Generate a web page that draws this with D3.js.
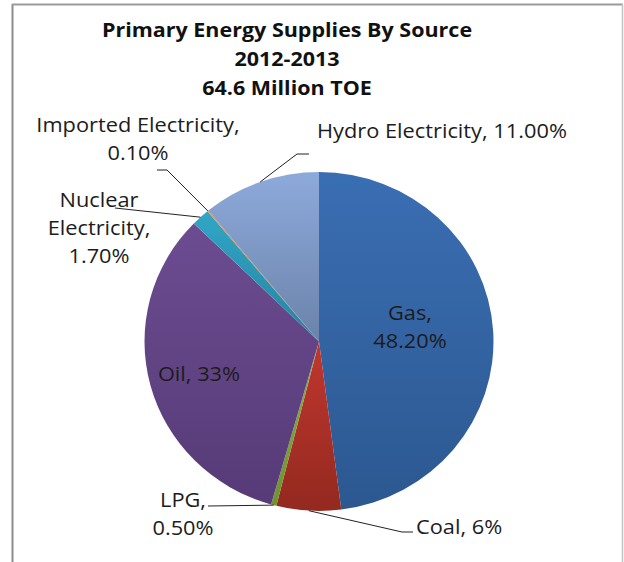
<!DOCTYPE html>
<html lang="en">
<head>
    <meta charset="UTF-8">
    <script src="https://d3js.org/d3.v7.min.js"></script>
    <style>
        body { margin: 0; background: #fff; }
        text { font-family: "Open Sans", Lato, sans-serif; fill: #1c1c1c; }
    </style>
</head>
<body>
<div id="chart"></div>
<script>
    // data
    var sources = ["Gas", "Coal", "LPG", "Oil", "Nuclear Electricity", "Imported Electricity", "Hydro Electricity"];
    var shares = [48.2, 6, 0.5, 33, 1.7, 0.1, 11];
    var shareLabels = ["48.20%", "6%", "0.50%", "33%", "1.70%", "0.10%", "11.00%"];
    var titleLines = ["Primary Energy Supplies By Source", "2012-2013", "64.6 Million TOE"];

    // top / bottom colour of each slice gradient
    var topColors = ["#3a6eb3", "#c0372f", "#8ab044", "#6c4c91", "#31a6c7", "#eb8f3c", "#8eaadb"];
    var botColors = ["#2c5890", "#93291f", "#6f9231", "#563b77", "#26839f", "#c0702a", "#6b83aa"];

    var width = 624, height = 562;
    var cx = 319, cy = 341.5, r = 174.5, sy = 0.971;
    var textStretch = 1.09;   // the original text is a bit wide

    // label placement: text lines, anchor position, leader path (elbow points)
    var labelLayout = [
        { lines: ["Gas,", "48.20%"], x: 410, y: 313, leader: null },
        { lines: ["Coal, 6%"], x: 416, y: 527, anchor: "start", leader: [[402, 532], [413, 532]] },
        { lines: ["LPG,", "0.50%"], x: 183, y: 500, leader: [[208, 506]] },
        { lines: ["Oil, 33%"], x: 199, y: 374, leader: null },
        { lines: ["Nuclear", "Electricity,", "1.70%"], x: 99, y: 200, leader: [[115, 208]] },
        { lines: ["Imported Electricity,", "0.10%"], x: 138, y: 125, leader: [[167, 170], [157, 170]] },
        { lines: ["Hydro Electricity, 11.00%"], x: 317, y: 131, anchor: "start", leader: [[297, 154], [309, 154]] }
    ];

    var svg = d3.select("#chart")
        .append("svg")
        .attr("width", width)
        .attr("height", height);

    // chart frame
    svg.append("line").attr("x1", 12.5).attr("x2", 12.5).attr("y1", 4).attr("y2", height)
        .attr("stroke", "#8c8c8c").attr("stroke-width", 2);
    svg.append("line").attr("x1", 12).attr("x2", 623).attr("y1", 4.5).attr("y2", 4.5)
        .attr("stroke", "#9a9a9a").attr("stroke-width", 2);
    svg.append("line").attr("x1", 622.5).attr("x2", 622.5).attr("y1", 4).attr("y2", height)
        .attr("stroke", "#c4c4c4").attr("stroke-width", 1.5);

    // title
    svg.append("g")
        .attr("transform", "translate(287,0) scale(1.075,1)")
        .selectAll("text")
        .data(titleLines)
        .enter()
        .append("text")
        .attr("x", 0)
        .attr("y", function (d, i) { return 30 + i * 29; })
        .attr("dy", "0.35em")
        .attr("text-anchor", "middle")
        .style("font-size", "20px")
        .style("font-weight", "bold")
        .style("fill", "#111")
        .text(function (d) { return d; });

    var defs = svg.append("defs");
    sources.forEach(function (s, i) {
        var g = defs.append("linearGradient")
            .attr("id", "grad" + i)
            .attr("x1", 0).attr("y1", 0).attr("x2", 0).attr("y2", 1);
        g.append("stop").attr("offset", "0%").attr("stop-color", topColors[i]);
        g.append("stop").attr("offset", "100%").attr("stop-color", botColors[i]);
    });

    var pie = d3.pie().sort(null).value(function (d) { return d; });
    var arcs = pie(shares);
    var arc = d3.arc().innerRadius(0).outerRadius(r);

    svg.append("g")
        .attr("transform", "translate(" + cx + "," + cy + ") scale(1," + sy + ")")
        .selectAll("path")
        .data(arcs)
        .enter()
        .append("path")
        .attr("d", arc)
        .attr("fill", function (d, i) { return "url(#grad" + i + ")"; })
        .attr("stroke", "none");

    // edge point of a slice, in page coordinates
    function edgePoint(d) {
        var a = (d.startAngle + d.endAngle) / 2;
        return [cx + r * Math.sin(a), cy - r * sy * Math.cos(a)];
    }

    var labels = svg.append("g");
    arcs.forEach(function (d, i) {
        var lay = labelLayout[i];
        if (lay.leader) {
            var pts = [edgePoint(d)].concat(lay.leader);
            labels.append("path")
                .attr("d", d3.line()(pts))
                .attr("fill", "none")
                .attr("stroke", "#222")
                .attr("stroke-width", 1);
        }
        var t = labels.append("text")
            .attr("transform", "translate(" + lay.x + "," + lay.y + ") scale(" + textStretch + ",1)")
            .attr("text-anchor", lay.anchor || "middle")
            .style("font-size", "20px");
        lay.lines.forEach(function (line, j) {
            t.append("tspan")
                .attr("x", 0)
                .attr("y", j * 28)
                .attr("dy", "0.35em")
                .text(line);
        });
    });
</script>
</body>
</html>
